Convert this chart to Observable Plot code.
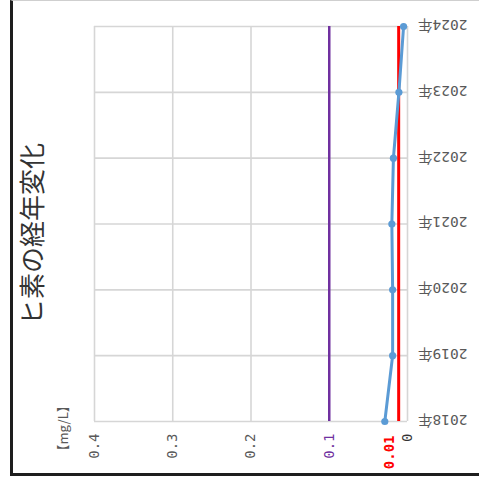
<!DOCTYPE html>
<html><head><meta charset="utf-8">
<script src="https://cdn.jsdelivr.net/npm/d3@7"></script>
<script src="https://cdn.jsdelivr.net/npm/@observablehq/plot@0.6"></script>
<style>
body{margin:0;background:#fff;}
#wrap{position:relative;width:479px;height:488px;overflow:hidden;background:#fff;}
#chart{position:absolute;left:0;top:0;}
#frame{position:absolute;left:10px;top:0;width:480px;height:476px;box-sizing:border-box;border-left:3px solid #1e1e1e;border-bottom:3px solid #1e1e1e;border-top:1px solid #cfcfcf;pointer-events:none;}
</style></head><body>
<div id="wrap"><div id="chart"></div><div id="frame"></div></div>
<script>
const years = [2018, 2019, 2020, 2021, 2022, 2023, 2024];
const yearLabels = ["2018年", "2019年", "2020年", "2021年", "2022年", "2023年", "2024年"];
const arsenic = [0.029, 0.019, 0.019, 0.020, 0.018, 0.011, 0.005];
const gridValues = [0, 0.1, 0.2, 0.3, 0.4];
const tickValues = [0.4, 0.3, 0.2, 0.1, 0.01, 0];
const tickLabels = ["0.4", "0.3", "0.2", "0.1", "0.01", "0"];
const standardA = 0.1;   // purple line
const standardB = 0.01;  // red line
const title = "ヒ素の経年変化";
const unit = "【mg/L】";

const data = years.map((y, i) => ({year: y, value: arsenic[i], label: yearLabels[i]}));
const ticks = tickValues.map((v, i) => ({v, label: tickLabels[i]}));
const tickColor = v => v === standardA ? "#7030A0" : v === standardB ? "#FF0000" : v === 0 ? "#333333" : "#595959";

const mono = "'DejaVu Sans Mono', 'Noto Sans CJK JP', monospace";
const cjk = "'Noto Sans CJK JP', sans-serif";

const plot = Plot.plot({
  width: 479, height: 488,
  marginTop: 26, marginBottom: 67, marginLeft: 94, marginRight: 72,
  x: {domain: [0, 0.4], reverse: true, axis: null},
  y: {domain: [2018, 2024], axis: null},
  style: {background: "transparent"},
  marks: [
    Plot.gridX(gridValues, {stroke: "#d6d6d6", strokeOpacity: 1, strokeWidth: 1.6}),
    Plot.gridY(years, {stroke: "#d6d6d6", strokeOpacity: 1, strokeWidth: 1.6}),
    Plot.ruleX([standardA], {stroke: "#7030A0", strokeWidth: 2.5}),
    Plot.ruleX([standardB], {stroke: "#FF0000", strokeWidth: 3, dx: -1}),
    Plot.line(data, {x: "value", y: "year", stroke: "#5B9BD5", strokeWidth: 3}),
    Plot.dot(data, {x: "value", y: "year", r: 3.6, fill: "#5B9BD5"}),
    Plot.text(ticks.filter(d => d.v !== standardB), {
      x: "v", frameAnchor: "bottom", text: "label", rotate: -90, textAnchor: "end",
      lineAnchor: "middle", dy: 12, fontSize: 14, fontFamily: mono, fill: d => tickColor(d.v)
    }),
    Plot.text(ticks.filter(d => d.v === standardB), {
      x: "v", frameAnchor: "bottom", text: "label", rotate: -90, textAnchor: "end",
      lineAnchor: "middle", dy: 14, dx: -10, fontSize: 14, fontFamily: mono, fontWeight: "bold", fill: d => tickColor(d.v)
    }),
    Plot.text(data, {
      y: "year", frameAnchor: "right", text: "label", rotate: 180, textAnchor: "start",
      lineAnchor: "middle", dx: 60, dy: -2, fontSize: 14.5, fontFamily: mono, fill: "#595959"
    }),
    Plot.text([title], {
      frameAnchor: "left", text: d => d, rotate: -90, textAnchor: "middle", lineAnchor: "middle",
      dx: -61, dy: 10, fontSize: 26, fontFamily: cjk, fill: "#333333"
    }),
    Plot.text([unit], {
      frameAnchor: "bottom-left", text: d => d, rotate: -90, textAnchor: "start", lineAnchor: "middle",
      dx: -31, dy: 36, fontSize: 13, fontFamily: cjk, fill: "#595959"
    })
  ]
});
document.getElementById("chart").appendChild(plot);
</script>
</body></html>
